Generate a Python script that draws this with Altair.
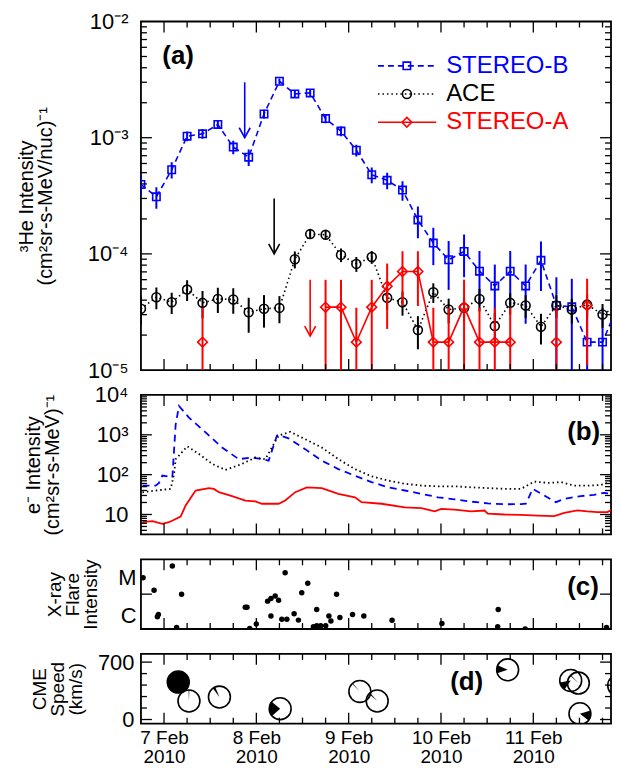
import math
import altair as alt
import pandas as pd

FONT = "Liberation Sans"
BLUE, RED, BLACK = "#0000ff", "#ff0000", "#000000"
SERIES = ["STEREO-B", "ACE", "STEREO-A"]
COLORS = [BLUE, BLACK, RED]

# ---------------- data ----------------
# panel (a): 4-hour 3He intensities (time in days of Feb 2010)
he_time = [6.750, 6.917, 7.083, 7.250, 7.417, 7.583, 7.750, 7.917, 8.083, 8.250,
           8.417, 8.583, 8.750, 8.917, 9.083, 9.250, 9.417, 9.583, 9.750, 9.917,
           10.083, 10.250, 10.417, 10.583, 10.750, 10.917, 11.083, 11.250, 11.417,
           11.583, 11.750, 11.917]
he_stb = [3.96e-4, 3.1e-4, 5.3e-4, 1.03e-3, 1.08e-3, 1.3e-3, 8.3e-4, 6.8e-4, 1.6e-3, 3.06e-3,
          2.38e-3, 2.43e-3, 1.46e-3, 1.14e-3, 7.8e-4, 4.8e-4, 4.3e-4, 3.54e-4, 1.96e-4, 1.24e-4,
          8.9e-5, 1.05e-4, 7.1e-5, 5.3e-5, 7.1e-5, 5.3e-5, 8.8e-5, 3.6e-5, 3.5e-5,
          1.74e-5, 1.74e-5, 3.6e-5]
he_stb_err = [8e-5, 6.5e-5, 8.5e-5, 1.0e-4, 1.0e-4, 1.1e-4, 1.1e-4, 1.1e-4, 1.4e-4, 1.8e-4,
              1.6e-4, 1.6e-4, 1.3e-4, 1.1e-4, 9e-5, 7.5e-5, 7e-5, 6.8e-5, 6e-5, 4.4e-5,
              4e-5, 4.2e-5, 3.5e-5, 2.8e-5, 3.5e-5, 2.8e-5, 4e-5, 2.7e-5, 2.6e-5,
              1.7e-5, 1.7e-5, 2.6e-5]
he_ace = [3.37e-5, 4.24e-5, 3.84e-5, 4.93e-5, 3.79e-5, 4.1e-5, 4.05e-5, 3.15e-5, 3.37e-5, 3.43e-5,
          9.0e-5, 1.48e-4, 1.46e-4, 9.8e-5, 8.2e-5, 9.4e-5, 4.19e-5, 3.84e-5, 2.21e-5, 4.68e-5,
          3.32e-5, 3.43e-5, 4.1e-5, 2.39e-5, 3.79e-5, 3.6e-5, 2.36e-5, 3.6e-5, 3.32e-5,
          3.66e-5, 3.01e-5, 3.58e-5]
he_ace_err = [9e-6, 9e-6, 8e-6, 1e-5, 1e-5, 1e-5, 1e-5, 1.05e-5, 1.05e-5, 9e-6,
              1.5e-5, 1.3e-5, 1.3e-5, 1.3e-5, 1.2e-5, 1.2e-5, 9e-6, 9e-6, 7e-6, 9e-6,
              8e-6, 8e-6, 9e-6, 7e-6, 8e-6, 8e-6, 7e-6, 8e-6, 8e-6,
              8e-6, 7e-6, 8e-6]
he_sta = [None, None, None, None, 1.74e-5, None, None, None, None, None,
          None, None, 3.48e-5, 3.48e-5, 1.74e-5, 3.48e-5, 5.26e-5, 7.06e-5, 7.06e-5, 1.74e-5,
          1.74e-5, 3.5e-5, 1.74e-5, 1.74e-5, 1.74e-5, None, None, 1.74e-5, None,
          3.6e-5, None, 1.74e-5]
he_sta_err = [0, 0, 0, 0, 1.7e-5, 0, 0, 0, 0, 0,
              0, 0, 2.5e-5, 2.5e-5, 1.7e-5, 2.5e-5, 3.0e-5, 3.5e-5, 3.5e-5, 1.7e-5,
              1.7e-5, 2.5e-5, 1.7e-5, 1.7e-5, 1.7e-5, 0, 0, 1.7e-5, 0,
              2.5e-5, 0, 1.7e-5]
# arrows (onset markers): time, top value, tip value
arrow_series = ["STEREO-B", "ACE", "STEREO-A"]
arrow_time = [7.874, 8.193, 8.583]
arrow_top = [3.0e-3, 3.0e-4, 6.0e-5]
arrow_tip = [1.0e-3, 1.0e-4, 1.96e-5]

# panel (b): electron intensities
e_stb_t = [6.766, 6.910, 6.946, 6.982, 7.036, 7.090, 7.126, 7.162, 7.270, 7.450, 7.629, 7.809,
           7.953, 8.061, 8.133, 8.223, 8.241, 8.349, 8.529, 8.709, 8.888, 9.068, 9.248, 9.428,
           9.608, 9.788, 9.968, 10.147, 10.327, 10.507, 10.687, 10.867, 10.921, 10.993, 11.119,
           11.245, 11.335, 11.514, 11.658, 11.766, 11.935]
e_stb = [53, 53, 62, 95, 90, 85, 1800, 5300, 2700, 1150, 480, 245,
         270, 245, 224, 955, 1000, 813, 437, 224, 138, 94, 65, 48,
         40, 33, 27, 24, 21, 19, 18, 18.2, 18.6, 44, 30,
         20.4, 24.5, 29, 31, 35, 31]
e_ace_t = [6.766, 6.910, 7.072, 7.108, 7.126, 7.252, 7.378, 7.522, 7.665, 7.845, 7.989, 8.097,
           8.241, 8.367, 8.529, 8.709, 8.888, 9.068, 9.248, 9.428, 9.608, 9.788, 9.968, 10.147,
           10.327, 10.507, 10.687, 10.867, 11.011, 11.155, 11.299, 11.442, 11.586, 11.730, 11.935]
e_ace = [36, 40, 44, 100, 245, 513, 331, 186, 132, 186, 269, 245,
         955, 1189, 776, 479, 245, 138, 91, 71, 59, 53, 51, 51,
         48, 46, 44, 44, 67, 62, 65, 53, 53, 55, 78]
e_sta_t = [6.766, 6.874, 6.982, 7.054, 7.180, 7.234, 7.342, 7.486, 7.540, 7.594, 7.737, 7.881,
           7.989, 8.061, 8.241, 8.313, 8.421, 8.547, 8.709, 8.888, 9.068, 9.140, 9.356, 9.608,
           9.788, 9.932, 10.004, 10.147, 10.327, 10.471, 10.507, 10.687, 10.867, 11.047, 11.227,
           11.335, 11.478, 11.586, 11.694, 11.802, 11.856, 11.935]
e_sta = [6.4, 6.8, 5.8, 6.4, 8.9, 16.8, 40, 45.7, 43.7, 36.3, 28.8, 22.4,
         21.4, 18.6, 18.6, 22.4, 36.3, 47.9, 45.7, 33.1, 26.9, 20.4, 18.6, 15.1,
         14.5, 12.0, 13.8, 13.3, 12.0, 12.6, 10.5, 10.0, 9.8, 9.4, 9.1,
         11.0, 12.6, 11.9, 11.5, 11.5, 13.3, 11.9]

# panel (c): GOES X-ray flares (peak flux W/m^2)
fl_t = [6.773, 6.892, 6.928, 6.939, 7.090, 7.136, 7.190, 7.880, 7.899, 7.928, 7.999, 8.122,
        8.158, 8.158, 8.204, 8.241, 8.276, 8.312, 8.330, 8.409, 8.456, 8.492, 8.557, 8.618,
        8.654, 8.654, 8.697, 8.751, 8.786, 8.808, 8.869, 8.905, 9.042, 9.164, 9.470, 10.010,
        10.620, 10.614, 10.912, 11.793]
fl_flux = [2.95e-5, 1.3e-5, 2.26e-6, 2.6e-6, 6.4e-5, 1.1e-6, 1.0e-5, 4.2e-6, 4.2e-6, 1.04e-6,
           1.4e-6, 6.3e-6, 7.5e-6, 2.35e-6, 8.8e-6, 6.7e-6, 1.9e-6, 4.1e-5, 1.9e-6, 2.75e-6,
           1.8e-6, 1.1e-5, 2.05e-5, 1.17e-6, 3.65e-6, 1.25e-6, 1.25e-6, 1.25e-6, 2.35e-6, 1.7e-6,
           1.0e-5, 2.15e-6, 2.6e-6, 2.35e-6, 1.78e-6, 1.45e-6, 3.65e-6, 1.17e-6, 1.0e-6, 1.1e-6]

# panel (d): CMEs: time, speed, central position angle (deg), angular width (deg)
cme_t = [7.154, 7.270, 7.600, 8.258, 9.121, 9.309, 10.722, 11.405, 11.488, 11.505, 11.925]
cme_v = [456, 226, 274, 132, 342, 226, 606, 476, 444, 71, 415]
cme_pa = [0, 0, 330, 269, 317, 315, 273, 237, 315, 101, 270]
cme_w = [360, 4, 15, 80, 4, 8, 43, 46, 4, 55, 4]

# ---------------- layout ----------------
PX_PER_DAY = 92.7
W = 472
X0 = 6.75
X1 = X0 + W / PX_PER_DAY
HA, HB, HC, HD = 350, 140, 70, 70
TL_MAJ, TL_MIN = 11, 6

xs = alt.Scale(domain=[X0, X1], nice=False, zero=False)
ya = alt.Scale(type="log", domain=[1e-5, 1e-2], nice=False)
yb = alt.Scale(type="log", domain=[3.1623, 1e4], nice=False)
yc = alt.Scale(type="log", domain=[1e-6, 1e-4], nice=False)
yd = alt.Scale(domain=[-50, 800], nice=False, zero=False)


def X(f="t"):
    return alt.X(f"{f}:Q", scale=xs, axis=None)


def yaxis(values, expr, title, tpad, lh, lpad, tfs=20):
    return alt.Axis(values=values, labelExpr=expr, ticks=False, domain=False, grid=False,
                    labelFontSize=22, labelPadding=lpad, labelFlush=False, labelOverlap=False,
                    title=title, titleFontSize=tfs, titleFontWeight="normal",
                    titlePadding=tpad, titleLineHeight=lh)


def x_ticks(H, xenc):
    major = [7, 8, 9, 10, 11]
    minor = [X0 + 0.25 * i for i in range(1, 21)
             if (X0 + 0.25 * i) % 1 != 0 and X0 + 0.25 * i < X1]
    layers = []
    for vals, L in ((major, TL_MAJ), (minor, TL_MIN)):
        df = pd.DataFrame({"x": vals})
        base = alt.Chart(df).mark_rule(color="black", strokeWidth=1.3)
        layers.append(base.encode(x=xenc("x"), y=alt.value(0), y2=alt.value(L)))
        layers.append(base.encode(x=xenc("x"), y=alt.value(H), y2=alt.value(H - L)))
    return layers


def y_ticks(ys, major, minor):
    layers = []
    for vals, L in ((major, TL_MAJ), (minor, TL_MIN)):
        if not vals:
            continue
        df = pd.DataFrame({"y": vals})
        base = alt.Chart(df).mark_rule(color="black", strokeWidth=1.3)
        Y = alt.Y("y:Q", scale=ys)
        layers.append(base.encode(y=Y, x=alt.value(0), x2=alt.value(L)))
        layers.append(base.encode(y=Y, x=alt.value(W), x2=alt.value(W - L)))
    return layers


def log_minor(e0, e1):
    out = []
    for e in range(e0, e1):
        for m in range(2, 10):
            out.append(m * 10 ** e)
    return out


def panel_label(txt, x, y):
    return alt.Chart(pd.DataFrame({"s": [txt]})).mark_text(
        font=FONT, fontSize=26, fontWeight="bold", align="left", baseline="middle", color="black"
    ).encode(x=alt.value(x), y=alt.value(y), text="s:N")


def he_df(vals, errs):
    rows, seg, prev = [], 0, None
    for k, (t, v, e) in enumerate(zip(he_time, vals, errs)):
        if v is None:
            continue
        if prev is not None and k != prev + 1:
            seg += 1
        prev = k
        rows.append(dict(t=t, v=v, lo=v - e, hi=v + e, seg=seg))
    return pd.DataFrame(rows)


# ---------------- panel (a) ----------------
a_expr = ("datum.value > 0.005 ? '10⁻²' : datum.value > 0.0005 ? '10⁻³' : "
          "datum.value > 0.00005 ? '10⁻⁴' : '10⁻⁵'")
a_axis = yaxis([1e-5, 1e-4, 1e-3, 1e-2], a_expr,
               ["³He Intensity", "(cm²sr-s-MeV/nuc)⁻¹"], 32, 19, 13)

specs = [
    (he_stb, he_stb_err, BLUE, [6, 4], "square", 55),
    (he_ace, he_ace_err, BLACK, [1.5, 3], "circle", 80),
    (he_sta, he_sta_err, RED, None, "diamond", 95),
]
a_layers = []
first = True
for vals, errs, col, dash, shape, size in specs:
    df = he_df(vals, errs)
    if first:
        ylo = alt.Y("lo:Q", scale=ya, axis=a_axis)
    else:
        ylo = alt.Y("lo:Q", scale=ya)
    first = False
    bars = alt.Chart(df).mark_rule(color=col, strokeWidth=2, clip=True).encode(
        x=X(), y=ylo, y2="hi:Q")
    lkw = dict(color=col, strokeWidth=1.6, clip=True)
    if dash:
        lkw["strokeDash"] = dash
    line = alt.Chart(df).mark_line(**lkw).encode(
        x=X(), y=alt.Y("v:Q", scale=ya), detail="seg:N")
    pts = alt.Chart(df).mark_point(shape=shape, filled=False, size=size, color=col,
                                   strokeWidth=1.6, opacity=1, clip=True).encode(
        x=X(), y=alt.Y("v:Q", scale=ya))
    a_layers += [bars, line, pts]

arr_df = pd.DataFrame({"s": arrow_series, "t": arrow_time, "top": arrow_top, "tip": arrow_tip})
acol = alt.Color("s:N", scale=alt.Scale(domain=SERIES, range=COLORS), legend=None)
a_layers.append(alt.Chart(arr_df).mark_rule(strokeWidth=1.6).encode(
    x=X(), y=alt.Y("top:Q", scale=ya), y2="tip:Q", color=acol))
a_layers.append(alt.Chart(arr_df).mark_point(
    shape="M-0.55,-1L0,0L0.55,-1", filled=False, size=400, strokeWidth=1.6, opacity=1).encode(
    x=X(), y=alt.Y("tip:Q", scale=ya), color=acol))

# legend (drawn inside panel a)
leg_y = [44.5, 72.8, 101.2]
for name, col, dash, shape, size, yy in zip(SERIES, COLORS, [[6, 4], [1.5, 3], None],
                                            ["square", "circle", "diamond"], [55, 80, 95], leg_y):
    one = alt.Chart(pd.DataFrame({"s": [name]}))
    rkw = dict(color=col, strokeWidth=1.6)
    if dash:
        rkw["strokeDash"] = dash
    a_layers.append(one.mark_rule(**rkw).encode(x=alt.value(238), x2=alt.value(296.5), y=alt.value(yy)))
    a_layers.append(one.mark_point(shape=shape, filled=False, size=size, color=col, strokeWidth=1.6,
                                   opacity=1).encode(x=alt.value(267), y=alt.value(yy)))
    a_layers.append(one.mark_text(font=FONT, fontSize=24, align="left", baseline="middle",
                                  color=col).encode(x=alt.value(306.5), y=alt.value(yy), text="s:N"))

a_layers.append(panel_label("(a)", 21.5, 34.5))
a_layers += x_ticks(HA, X)
a_layers += y_ticks(ya, [1e-4, 1e-3], log_minor(-5, -2))
panel_a = alt.layer(*a_layers).properties(width=W, height=HA)

# ---------------- panel (b) ----------------
b_expr = ("datum.value > 5000 ? '10⁴' : datum.value > 500 ? '10³' : "
          "datum.value > 50 ? '10²' : '10'")
b_axis = yaxis([10, 100, 1000, 10000], b_expr,
               ["e⁻ Intensity", "(cm²sr-s-MeV)⁻¹"], 32, 19, 13)
b_layers = []
for t, v, col, dash, ax in ((e_stb_t, e_stb, BLUE, [7, 5], b_axis),
                            (e_ace_t, e_ace, BLACK, [1.5, 3], None),
                            (e_sta_t, e_sta, RED, None, None)):
    df = pd.DataFrame({"t": t, "v": v})
    lkw = dict(color=col, strokeWidth=1.8, clip=True)
    if dash:
        lkw["strokeDash"] = dash
    yenc = alt.Y("v:Q", scale=yb, axis=ax) if ax is not None else alt.Y("v:Q", scale=yb)
    b_layers.append(alt.Chart(df).mark_line(**lkw).encode(x=X(), y=yenc))
b_layers.append(panel_label("(b)", 428, 37.5))
b_layers += x_ticks(HB, X)
minor_b = [v for v in log_minor(0, 4) if v > 3.2]
b_layers += y_ticks(yb, [10, 100, 1000], minor_b)
panel_b = alt.layer(*b_layers).properties(width=W, height=HB)

# ---------------- panel (c) ----------------
c_axis = yaxis([3e-5, 2.5e-6], "datum.value > 0.00001 ? 'M' : 'C'",
               ["X-ray", "Flare", "Intensity"], 17, 18, 5, 19)
c_df = pd.DataFrame({"t": fl_t, "f": fl_flux})
c_layers = [alt.Chart(c_df).mark_circle(size=30, color="black", opacity=1, clip=True).encode(
    x=X(), y=alt.Y("f:Q", scale=yc, axis=c_axis))]
c_layers.append(panel_label("(c)", 428, 27.5))
c_layers += x_ticks(HC, X)
c_layers += y_ticks(yc, [1e-5], [])
panel_c = alt.layer(*c_layers).properties(width=W, height=HC)

# ---------------- panel (d) ----------------
d_axis = yaxis([0, 700], "datum.label", ["CME", "Speed", "(km/s)"], 12, 18, 7, 19)
x_axis = alt.Axis(values=[7, 8, 9, 10, 11], labelExpr="[datum.value + ' Feb', '2010']",
                  ticks=False, domain=False, grid=False, labelFontSize=19, labelLineHeight=19,
                  labelPadding=5, labelFlush=False, labelOverlap=False, title=None)


def XD(f="t"):
    return alt.X(f"{f}:Q", scale=xs)


d_df = pd.DataFrame({
    "t": cme_t, "v": cme_v,
    "a0": [math.radians(p - w / 2) for p, w in zip(cme_pa, cme_w)],
    "a1": [math.radians(p + w / 2) for p, w in zip(cme_pa, cme_w)],
})
d_layers = [
    alt.Chart(d_df).mark_point(shape="circle", filled=False, size=484, color="black",
                               strokeWidth=1.6, opacity=1, clip=True).encode(
        x=alt.X("t:Q", scale=xs, axis=x_axis), y=alt.Y("v:Q", scale=yd, axis=d_axis)),
    alt.Chart(d_df).mark_arc(color="black", radius=11, clip=True).encode(
        x=XD(), y=alt.Y("v:Q", scale=yd),
        theta=alt.Theta("a0:Q", scale=None, stack=False), theta2="a1:Q"),
]
d_layers.append(panel_label("(d)", 310.5, 28))
d_layers += x_ticks(HD, XD)
d_layers += y_ticks(yd, [0, 700], [140, 280, 420, 560])
panel_d = alt.layer(*d_layers).properties(width=W, height=HD)

chart = alt.vconcat(panel_a, panel_b, panel_c, panel_d, spacing=25, bounds="flush").properties(
    padding={"left": 7.5, "top": 0, "right": 0, "bottom": 0}
).configure_view(stroke="black", strokeWidth=1.8).configure_axis(
    labelFont=FONT, titleFont=FONT, labelColor="black", titleColor="black",
    ticks=False, domain=False, grid=False, labelFlush=False, labelOverlap=False
).configure_text(font=FONT)

chart.save("out.html", embed_options={"renderer": "svg", "actions": False})
